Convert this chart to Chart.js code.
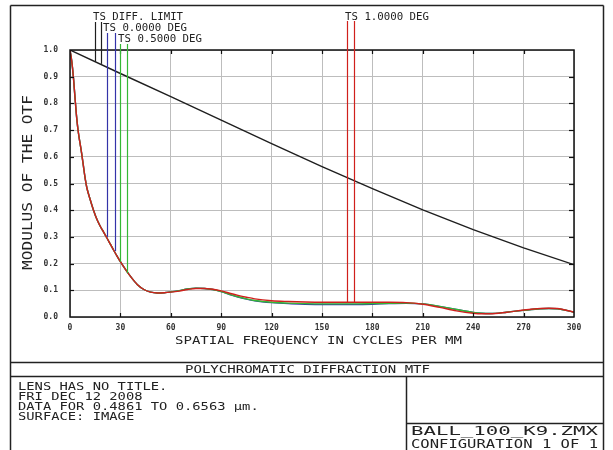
<!DOCTYPE html>
<html>
<head>
<meta charset="utf-8">
<script src="https://cdn.jsdelivr.net/npm/chart.js@4/dist/chart.umd.min.js"></script>
<style>
    html, body { margin: 0; padding: 0; background: #fff; }
    canvas { display: block; }
</style>
</head>
<body>
<canvas id="mtfChart" width="613" height="450"></canvas>
<script>
// spatial frequency (cycles/mm) for the field curves
const freqs = [0, 1, 2, 3, 4, 5, 6, 7, 8, 9, 10, 12, 14, 16, 18, 20, 22, 24, 26, 28, 30,
    33, 36, 40, 44, 48, 52, 56, 60, 65, 70, 75, 80, 85, 90, 95, 100, 105, 110,
    120, 130, 140, 150, 160, 170, 180, 190, 200, 210, 220, 230, 240, 245, 250, 260, 270, 280, 285, 290, 300];

const mtfField0 = [1.0, 0.96, 0.90, 0.82, 0.745, 0.69, 0.65, 0.61, 0.565, 0.52, 0.485, 0.44, 0.40, 0.366, 0.34, 0.318, 0.296, 0.273, 0.25, 0.228, 0.207,
    0.178, 0.152, 0.122, 0.103, 0.093, 0.09, 0.091, 0.094, 0.099, 0.105, 0.108, 0.107, 0.103, 0.095, 0.084, 0.075, 0.067, 0.061,
    0.054, 0.05, 0.048, 0.047, 0.047, 0.047, 0.048, 0.05, 0.051, 0.049, 0.04, 0.028, 0.017, 0.014, 0.013, 0.018, 0.025, 0.031, 0.032, 0.031, 0.018];

const mtfField05 = [1.0, 0.96, 0.90, 0.82, 0.745, 0.69, 0.65, 0.61, 0.565, 0.52, 0.485, 0.44, 0.40, 0.366, 0.34, 0.318, 0.296, 0.273, 0.25, 0.228, 0.207,
    0.178, 0.152, 0.122, 0.103, 0.093, 0.09, 0.091, 0.094, 0.099, 0.105, 0.108, 0.107, 0.103, 0.095, 0.085, 0.076, 0.068, 0.062,
    0.055, 0.052, 0.05, 0.049, 0.049, 0.049, 0.05, 0.051, 0.052, 0.049, 0.04, 0.028, 0.017, 0.014, 0.013, 0.018, 0.025, 0.031, 0.032, 0.031, 0.018];

const mtfField1 = [1.0, 0.96, 0.90, 0.82, 0.745, 0.69, 0.65, 0.61, 0.565, 0.52, 0.485, 0.44, 0.40, 0.366, 0.34, 0.318, 0.296, 0.273, 0.25, 0.228, 0.207,
    0.178, 0.152, 0.122, 0.103, 0.093, 0.09, 0.091, 0.093, 0.097, 0.103, 0.107, 0.107, 0.104, 0.098, 0.089, 0.081, 0.074, 0.068,
    0.061, 0.058, 0.056, 0.055, 0.055, 0.055, 0.055, 0.055, 0.054, 0.048, 0.036, 0.023, 0.014, 0.012, 0.012, 0.018, 0.026, 0.032, 0.033, 0.032, 0.018];

// diffraction limit
const diffFreqs = [0, 30, 60, 90, 120, 150, 180, 210, 240, 270, 300];
const diffMtf = [1.0, 0.912, 0.825, 0.737, 0.649, 0.563, 0.481, 0.401, 0.327, 0.259, 0.196];

// leader lines from the labels down to the curves (T and S for each field)
const leaderGroups = ['diff', 'diff', 'f0', 'f0', 'f05', 'f05', 'f1', 'f1'];
const leaderFreqs = [14.9, 18.5, 22.3, 26.5, 29.8, 34.2, 164.7, 169.0];
const leaderValues = [0.956, 0.948, 0.30, 0.247, 0.207, 0.165, 0.054, 0.054];

const fieldLabels = ['TS DIFF. LIMIT', 'TS 0.0000 DEG', 'TS 0.5000 DEG', 'TS 1.0000 DEG'];
const xTitle = 'SPATIAL FREQUENCY IN CYCLES PER MM';
const yTitle = 'MODULUS OF THE OTF';
const plotTitle = 'POLYCHROMATIC DIFFRACTION MTF';
const infoLines = ['LENS HAS NO TITLE.', 'FRI DEC 12 2008', 'DATA FOR 0.4861 TO 0.6563 \u00b5m.', 'SURFACE: IMAGE'];
const fileLines = ['BALL_100_K9.ZMX', 'CONFIGURATION 1 OF 1'];

const COLORS = { diff: '#1e1e1e', f0: '#3333a8', f05: '#34b834', f1: '#d0201c' };
const FONT = '"DejaVu Sans Mono", "Liberation Mono", monospace';

function toPoints(xs, ys) {
    return xs.map((x, i) => ({ x: x, y: ys[i] }));
}

// plotter-like text: monospace squeezed/stretched to a given width
function drawFit(ctx, text, left, baseline, width, size) {
    ctx.font = size + 'px ' + FONT;
    const w = ctx.measureText(text).width;
    ctx.save();
    ctx.translate(left, baseline);
    ctx.scale(width / w, 1);
    ctx.textAlign = 'left';
    ctx.textBaseline = 'alphabetic';
    ctx.fillText(text, 0, 0);
    ctx.restore();
}

function line(ctx, x1, y1, x2, y2) {
    ctx.beginPath();
    ctx.moveTo(x1, y1);
    ctx.lineTo(x2, y2);
    ctx.stroke();
}

const framePlugin = {
    id: 'frame',
    beforeDraw(chart) {
        const ctx = chart.ctx;
        ctx.save();
        ctx.fillStyle = '#fff';
        ctx.fillRect(0, 0, chart.width, chart.height);
        ctx.restore();
    },
    afterDraw(chart) {
        const { ctx, chartArea: a, scales: { x, y } } = chart;
        ctx.save();

        // plot box
        ctx.strokeStyle = '#111';
        ctx.lineWidth = 1.5;
        ctx.strokeRect(a.left, a.top, a.right - a.left, a.bottom - a.top);

        // inward tick marks
        ctx.lineWidth = 1.2;
        for (let v = 30; v < 300; v += 30) {
            const px = Math.round(x.getPixelForValue(v)) + 0.5;
            line(ctx, px, a.top, px, a.top + 4);
            line(ctx, px, a.bottom, px, a.bottom - 4);
        }
        for (let k = 1; k < 10; k++) {
            const py = Math.round(y.getPixelForValue(k / 10)) + 0.5;
            line(ctx, a.left, py, a.left + 4, py);
            line(ctx, a.right, py, a.right - 5, py);
        }

        // leader lines
        const tops = { diff: 22, f0: 33, f05: 44, f1: 21 };
        ctx.lineWidth = 1.2;
        leaderFreqs.forEach((f, i) => {
            const g = leaderGroups[i];
            const px = Math.round(x.getPixelForValue(f)) + 0.5;
            ctx.strokeStyle = COLORS[g];
            line(ctx, px, tops[g], px, y.getPixelForValue(leaderValues[i]));
        });

        // field labels
        ctx.fillStyle = '#222';
        drawFit(ctx, fieldLabels[0], 93, 20, 90, 11);
        drawFit(ctx, fieldLabels[1], 103, 31, 84, 11);
        drawFit(ctx, fieldLabels[2], 118, 42, 84, 11);
        drawFit(ctx, fieldLabels[3], 345, 20, 84, 11);

        // axis titles
        drawFit(ctx, xTitle, 175, 344, 287, 11);
        ctx.save();
        ctx.translate(31.5, 270);
        ctx.rotate(-Math.PI / 2);
        drawFit(ctx, yTitle, 0, 0, 175, 13.5);
        ctx.restore();

        // outer frame and title block
        ctx.strokeStyle = '#222';
        ctx.lineWidth = 1.5;
        line(ctx, 10.5, 450, 10.5, 5.5);
        line(ctx, 10.5, 5.5, 603.5, 5.5);
        line(ctx, 603.5, 5.5, 603.5, 450);
        line(ctx, 10.5, 362.5, 603.5, 362.5);
        line(ctx, 10.5, 376.5, 603.5, 376.5);
        line(ctx, 406.5, 376.5, 406.5, 450);
        line(ctx, 406.5, 423.5, 603.5, 423.5);

        drawFit(ctx, plotTitle, 185, 373, 245, 10.5);
        const perChar = 8.3;
        infoLines.forEach((t, i) => {
            drawFit(ctx, t, 18, 390 + i * 10, t.length * perChar, 11);
        });
        drawFit(ctx, fileLines[0], 411, 435, 187, 11.5);
        drawFit(ctx, fileLines[1], 411, 448, 187, 11.5);

        ctx.restore();
    }
};

const lineStyle = { borderWidth: 1.4, pointRadius: 0, fill: false, cubicInterpolationMode: 'monotone' };

// first dataset is painted on top: red field over green over blue
new Chart(document.getElementById('mtfChart').getContext('2d'), {
    type: 'line',
    data: {
        datasets: [
            { ...lineStyle, label: 'TS 1.0000 DEG', data: toPoints(freqs, mtfField1), borderColor: COLORS.f1 },
            { ...lineStyle, label: 'TS 0.5000 DEG', data: toPoints(freqs, mtfField05), borderColor: COLORS.f05 },
            { ...lineStyle, label: 'TS 0.0000 DEG', data: toPoints(freqs, mtfField0), borderColor: COLORS.f0 },
            { ...lineStyle, label: 'TS DIFF. LIMIT', data: toPoints(diffFreqs, diffMtf), borderColor: COLORS.diff, cubicInterpolationMode: 'default', tension: 0 }
        ]
    },
    options: {
        responsive: false,
        animation: false,
        layout: { padding: { top: 50, right: 39, left: 0, bottom: 0 } },
        plugins: { legend: { display: false }, tooltip: { enabled: false } },
        scales: {
            x: {
                type: 'linear', min: 0, max: 300,
                ticks: { stepSize: 30, padding: 6, color: '#333', font: { family: FONT, size: 8, weight: 'bold' }, maxRotation: 0 },
                grid: { color: '#bdbdbd', lineWidth: 1, drawTicks: false },
                border: { display: false },
                afterFit: s => { s.height = 133; }
            },
            y: {
                min: 0, max: 1,
                ticks: { stepSize: 0.1, padding: 12, color: '#333', font: { family: FONT, size: 8, weight: 'bold' }, callback: v => v.toFixed(1) },
                grid: { color: '#bdbdbd', lineWidth: 1, drawTicks: false },
                border: { display: false },
                afterFit: s => { s.width = 70; }
            }
        }
    },
    plugins: [framePlugin]
});
</script>
</body>
</html>
